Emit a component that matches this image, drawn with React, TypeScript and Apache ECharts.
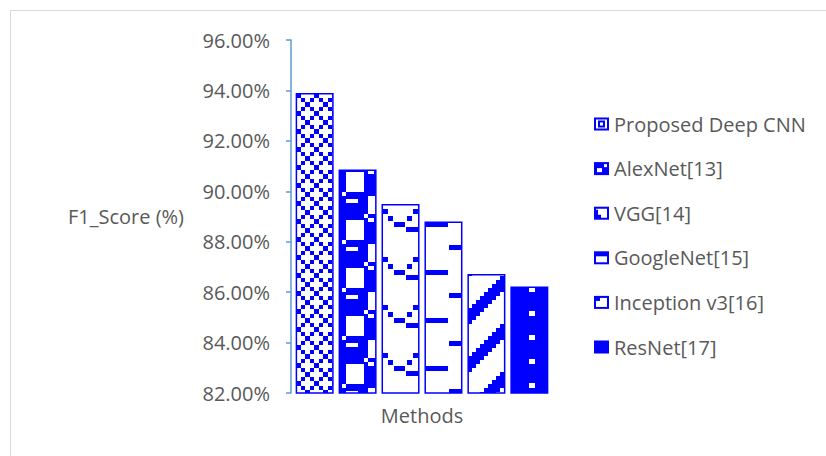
import React, { useEffect, useRef } from 'react';
import * as echarts from 'echarts';

const categories = ['Methods'];
const methods = [
  'Proposed Deep CNN',
  'AlexNet[13]',
  'VGG[14]',
  'GoogleNet[15]',
  'Inception v3[16]',
  'ResNet[17]',
];
const f1Scores = [93.9, 90.86, 89.5, 88.8, 86.72, 86.22];
const yMin = 82;
const yMax = 96;
const yInterval = 2;

const BLUE = '#0000FF';
const WHITE = '#FFFFFF';

type Rect = [number, number, number, number];

// Build a repeating tile whose content is anchored at global offset (ox, oy)
function makeTile(w: number, h: number, bg: string, rects: Rect[], fg: string, ox = 0, oy = 0) {
  const c = document.createElement('canvas');
  c.width = w;
  c.height = h;
  const ctx = c.getContext('2d')!;
  ctx.fillStyle = bg;
  ctx.fillRect(0, 0, w, h);
  ctx.fillStyle = fg;
  const sx0 = ((ox % w) + w) % w;
  const sy0 = ((oy % h) + h) % h;
  rects.forEach(([x, y, rw, rh]) => {
    const sx = (x + sx0) % w;
    const sy = (y + sy0) % h;
    for (const dx of [0, -w]) {
      for (const dy of [0, -h]) {
        ctx.fillRect(sx + dx, sy + dy, rw, rh);
      }
    }
  });
  return c;
}

function buildPatterns() {
  // 1: diagonal lattice of small squares
  const edges = [0, 5, 9, 14, 18];
  const r1: Rect[] = [];
  for (let r = 0; r < 4; r++) {
    const cols = Array.from(new Set([r, (4 - r) % 4]));
    cols.forEach((c) => r1.push([edges[c], edges[r], edges[c + 1] - edges[c], edges[r + 1] - edges[r]]));
  }
  const t1 = makeTile(18, 18, WHITE, r1, BLUE, 296, 93);

  // 2: shingle / blocks (white on blue)
  const t2 = makeTile(38, 48, BLUE, [
    [5, 2, 18, 20],
    [27, 0, 6, 4],
    [27, 26, 9, 18],
    [1, 22, 4, 4],
    [5, 29, 12, 4],
    [23, 44, 4, 4],
  ], WHITE, 341, 170);

  // 3: chevrons
  const t3 = makeTile(38, 48, WHITE, [
    [1, 5, 5, 5],
    [6, 12, 5, 5],
    [12, 18, 11, 5],
    [25, 12, 5, 5],
    [31, 5, 5, 5],
    [24, 23, 12, 5],
  ], BLUE, 382, 204);

  // 4: alternating dashes
  const t4 = makeTile(38, 48, WHITE, [
    [0, 0, 22, 5],
    [23, 23, 14, 5],
  ], BLUE, 426, 222);

  // 5: stair diagonal bands
  const r5: Rect[] = [];
  for (let cy = 0; cy < 12; cy++) {
    for (let cx = 0; cx < 12; cx++) {
      const k = (cx + cy) % 12;
      if (k >= 2 && k <= 5) r5.push([cx * 4, cy * 4, 4, 4]);
    }
  }
  const t5 = makeTile(48, 48, WHITE, r5, BLUE, 0, 0);

  // 6: solid with small white squares
  const t6 = makeTile(38, 24, BLUE, [[17, 0, 6, 5]], WHITE, 512, 311);

  const mk = (c: HTMLCanvasElement) => ({
    image: c,
    repeat: 'repeat',
    imageWidth: c.width,
    imageHeight: c.height,
  });
  return [t1, t2, t3, t4, t5, t6].map(mk);
}

function buildIcons() {
  const w = 15;
  const h = 13;
  const icons = [0, 1, 2, 3, 4, 5].map(() => makeTile(w, h, BLUE, [], BLUE));
  const draw = (c: HTMLCanvasElement, color: string, rects: Rect[]) => {
    const ctx = c.getContext('2d')!;
    ctx.fillStyle = color;
    rects.forEach(([x, y, rw, rh]) => ctx.fillRect(x, y, rw, rh));
  };
  draw(icons[0], WHITE, [[2, 2, 11, 9]]);
  draw(icons[0], BLUE, [[4, 3, 7, 7]]);
  draw(icons[0], WHITE, [[6, 5, 3, 3]]);
  draw(icons[1], WHITE, [[3, 6, 5, 4], [10, 2, 3, 3]]);
  draw(icons[2], WHITE, [[2, 2, 11, 9]]);
  draw(icons[2], BLUE, [[2, 8, 5, 3], [2, 3, 2, 8]]);
  draw(icons[3], WHITE, [[2, 5, 11, 6]]);
  draw(icons[4], WHITE, [[2, 2, 11, 9]]);
  draw(icons[4], BLUE, [[2, 2, 4, 3]]);
  return icons.map((c) => 'image://' + c.toDataURL());
}

export default function App() {
  const ref = useRef<HTMLDivElement>(null);

  useEffect(() => {
    document.body.style.margin = '0';
    if (!ref.current) return;
    const chart = echarts.init(ref.current, undefined, { renderer: 'svg' });
    const patterns = buildPatterns();
    const icons = buildIcons();
    const font = 'Open Sans';
    const option: any = {
      animation: false,
      backgroundColor: '#FFFFFF',
      textStyle: { fontFamily: font },
      grid: { left: 291, right: 273, top: 40, bottom: 63 },
      xAxis: {
        type: 'category',
        data: categories,
        axisLine: { show: false },
        axisTick: { show: false },
        axisLabel: { fontSize: 20, color: '#595959', margin: 12, fontFamily: font },
      },
      yAxis: {
        type: 'value',
        min: yMin,
        max: yMax,
        interval: yInterval,
        name: 'F1_Score (%)',
        nameLocation: 'middle',
        nameRotate: 0,
        nameGap: 107,
        nameTextStyle: { fontSize: 20, color: '#595959', fontFamily: font },
        axisLine: { show: true, lineStyle: { color: '#5B9BD5', width: 1.5 } },
        axisTick: { show: true, length: 5, lineStyle: { color: '#5B9BD5', width: 1.5 } },
        splitLine: { show: false },
        axisLabel: {
          fontSize: 20,
          color: '#595959',
          margin: 21,
          fontFamily: font,
          formatter: (v: number) => v.toFixed(2) + '%',
        },
      },
      legend: {
        orient: 'vertical',
        left: 589,
        top: 109,
        itemWidth: 15,
        itemHeight: 13,
        itemGap: 24.6,
        textStyle: { fontSize: 20, color: '#595959', lineHeight: 20, fontFamily: font },
        data: methods.map((m, i) => ({ name: m, icon: icons[i] })),
      },
      series: methods.map((m, i) => ({
        type: 'bar',
        name: m,
        data: [f1Scores[i]],
        barWidth: 38,
        barGap: '13%',
        itemStyle: { color: patterns[i], borderColor: BLUE, borderWidth: 1.5 },
      })),
      graphic: [
        {
          type: 'rect',
          silent: true,
          shape: { x: 10.5, y: 10.5, width: 830, height: 460 },
          style: { fill: 'none', stroke: '#D9D9D9', lineWidth: 1 },
        },
      ],
    };
    chart.setOption(option);
    return () => chart.dispose();
  }, []);

  return <div ref={ref} style={{ width: 826, height: 456 }} />;
}
